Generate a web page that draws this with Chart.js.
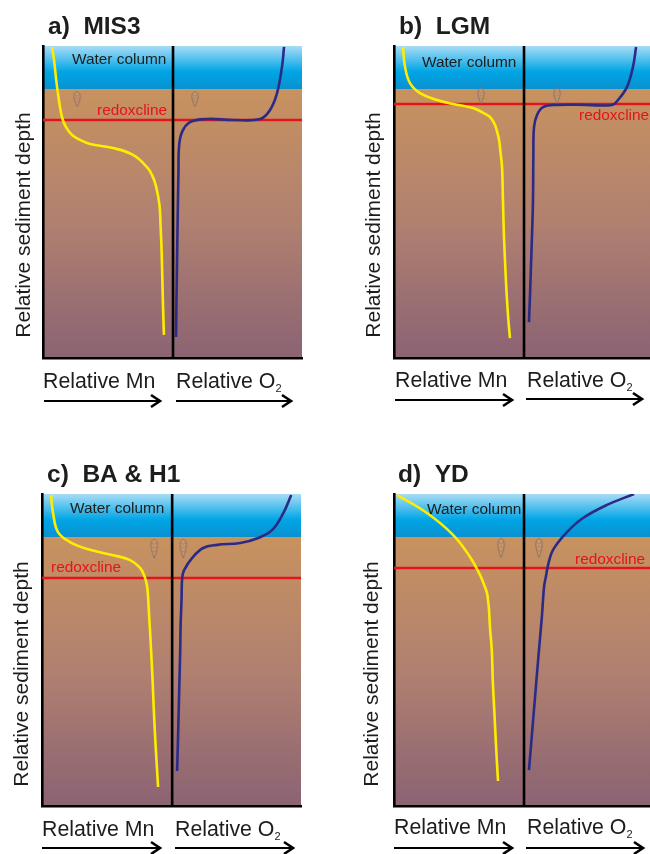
<!DOCTYPE html>
<html>
<head>
<meta charset="utf-8">
<title>Mn and O2 profiles</title>
<script src="https://cdn.jsdelivr.net/npm/chart.js@4"></script>
<style>
    html, body { margin: 0; padding: 0; background: #fff; overflow: hidden; }
    canvas { position: absolute; }
</style>
</head>
<body>
<canvas id="panel-a" width="325" height="427" style="left:0;top:0"></canvas>
<canvas id="panel-b" width="325" height="427" style="left:325px;top:0"></canvas>
<canvas id="panel-c" width="325" height="427" style="left:0;top:427px"></canvas>
<canvas id="panel-d" width="325" height="427" style="left:325px;top:427px"></canvas>
<script>
// Values. x: 0-100 is the Mn half, 100-200 the O2 half. Depth: 0 top, 100 bottom.
const misMnX = [6.9, 8.5, 10.8, 14.6, 17.7, 22.3, 28.5, 36.2, 53.8, 69.2, 80, 83.8, 86.9, 89.6, 90.4, 91.2, 91.8, 92.3, 93];
const misMnDepth = [0.3, 4.5, 13.1, 22.8, 26, 28.5, 30.1, 31.4, 32.7, 34.9, 38.8, 41.3, 44.9, 51, 57.4, 65.4, 75, 83, 92.6];
const misO2X = [185.4, 183.8, 180, 174.6, 166.9, 146.2, 126.2, 113.1, 106.9, 104.6, 104.2, 103.8, 103.4, 103, 102.6, 102.3];
const misO2Depth = [0.3, 6.7, 15.1, 20.5, 23.4, 23.7, 23.4, 24.4, 27.6, 32.4, 40, 49.4, 60, 71.8, 83, 93.3];

const lgmMnX = [6.9, 8.5, 12.3, 20, 33.1, 45.4, 60.8, 71.5, 74.6, 77.7, 79.6, 80.8, 81.9, 83.1, 83.8, 84.5, 85.5, 86.7, 88, 89.2];
const lgmMnDepth = [0.3, 6.7, 11.9, 15.1, 17.3, 18.6, 19.9, 22.1, 23.1, 25.3, 27.9, 30.1, 34, 38.8, 49.4, 60, 70, 80, 88, 93.6];
const lgmO2X = [186.2, 183.8, 179.2, 172.3, 167.7, 148.5, 125.4, 114.6, 110, 107.7, 107.2, 106.9, 106.2, 105.4, 104.6, 103.8];
const lgmO2Depth = [0.3, 6.7, 13.1, 17.3, 18.9, 18.9, 18.9, 19.6, 22.1, 26, 35, 49.4, 60, 70, 80, 88.5];

const baMnX = [6.9, 8.5, 12.3, 21.5, 36.9, 54.6, 67.7, 75.4, 79.2, 80.8, 81.5, 82.3, 83.1, 83.8, 85, 86, 87.2, 88.2, 89.2];
const baMnDepth = [0.3, 6.1, 12.2, 15.4, 17.9, 19.6, 21.2, 23.7, 26.9, 29.8, 33, 39, 44.6, 50, 60, 70, 80, 87, 93.9];
const baO2X = [191.5, 185.4, 176.9, 166.2, 152.3, 134.6, 123.8, 115.4, 109.2, 107.7, 107.2, 106.5, 106.2, 105.6, 105, 104.4, 103.8];
const baO2Depth = [0.3, 6.1, 11.5, 14.1, 15.7, 16.3, 17.3, 20.5, 24.4, 26.9, 34, 42, 50, 60, 70, 80, 88.8];

const ydMnX = [2.3, 25.4, 45.4, 58.5, 66.2, 69.2, 71.5, 72.3, 73.1, 73.8, 75.2, 76, 77.2, 78.4, 79.3, 80];
const ydMnDepth = [0.3, 6.1, 13.1, 20.2, 26, 29, 31.7, 34, 37.2, 42.6, 50, 60, 70, 80, 87, 92];
const ydO2X = [184.6, 163.8, 145.4, 133.1, 122.3, 118.5, 116.9, 115.4, 113.8, 111.5, 109.5, 107.5, 105.5, 103.8];
const ydO2Depth = [0, 3.5, 7.7, 12.2, 17.9, 22.8, 26.3, 29.8, 39, 50, 60, 70, 80, 88.5];

const redoxDepths = [23.7, 18.6, 26.9, 23.7];
const waterDepths = [13.8, 13.8, 13.8, 13.8];
const foramX = [[26.2, 116.9], [66.9, 125.4], [86.2, 108.5], [82.3, 111.5]];
const foramDepth = [[17, 17], [16, 16], [17.5, 17.5], [17.3, 17.3]];
const panelTitles = ['a)  MIS3', 'b)  LGM', 'c)  BA & H1', 'd)  YD'];

const zip = (xs, ys) => xs.map((x, i) => ({ x: x, y: ys[i] }));

// small foram shell used as a point image
function makeForam(w, h) {
    const c = document.createElement('canvas');
    c.width = w + 2;
    c.height = h + 2;
    const g = c.getContext('2d');
    g.translate(1, 1);
    g.beginPath();
    g.moveTo(w / 2, 0);
    g.bezierCurveTo(w + 0.5, 1, w, h * 0.5, w / 2, h);
    g.bezierCurveTo(0, h * 0.5, -0.5, 1, w / 2, 0);
    g.fillStyle = 'rgba(205,150,105,0.9)';
    g.fill();
    g.strokeStyle = '#7d6f66';
    g.lineWidth = 0.8;
    g.stroke();
    g.lineWidth = 0.5;
    for (let i = 1; i < 4; i++) {
        g.beginPath();
        g.moveTo(w * 0.2, h * i / 5);
        g.quadraticCurveTo(w / 2, h * i / 5 + 3, w * 0.8, h * i / 5);
        g.stroke();
    }
    return c;
}

// Function 1: draw background, texts and arrows of one panel
const panelPlugin = {
    id: 'panelPlugin',
    beforeDraw(chart, args, opts) {
        const { ctx, chartArea: a, scales } = chart;
        const waterY = scales.y.getPixelForValue(opts.water);

        const water = ctx.createLinearGradient(0, a.top, 0, waterY);
        water.addColorStop(0, '#a8dcf6');
        water.addColorStop(0.6, '#00a5e5');
        water.addColorStop(1, '#0a90cf');
        ctx.fillStyle = water;
        ctx.fillRect(a.left, a.top, a.width, waterY - a.top);

        const sediment = ctx.createLinearGradient(0, waterY, 0, a.bottom);
        sediment.addColorStop(0, '#c8925f');
        sediment.addColorStop(0.5, '#b08070');
        sediment.addColorStop(1, '#8b6373');
        ctx.fillStyle = sediment;
        ctx.fillRect(a.left, waterY, a.width, a.bottom - waterY);
    },
    afterDraw(chart, args, opts) {
        const ctx = chart.ctx;
        const dx = opts.offsetX, dy = opts.offsetY;
        ctx.save();
        ctx.textBaseline = 'alphabetic';
        ctx.textAlign = 'left';

        ctx.font = 'bold 24.5px "Liberation Sans"';
        ctx.fillStyle = '#1d1d1b';
        ctx.fillText(opts.title, opts.titleX - dx, opts.titleY - dy);

        ctx.font = '15.4px "Liberation Sans"';
        ctx.fillText('Water column', opts.waterX - dx, opts.waterY - dy);

        ctx.fillStyle = '#e3141c';
        ctx.fillText('redoxcline', opts.redoxX - dx, opts.redoxY - dy);

        ctx.fillStyle = '#1d1d1b';
        ctx.font = '21.3px "Liberation Sans"';
        ctx.fillText('Relative Mn', opts.mnX - dx, opts.labelY - dy);
        ctx.fillText('Relative O', opts.o2X - dx, opts.labelY - dy);
        const subX = opts.o2X + ctx.measureText('Relative O').width;
        ctx.font = '11px "Liberation Sans"';
        ctx.fillText('2', subX - dx, opts.labelY + 4 - dy);

        // rotated y label
        ctx.save();
        ctx.translate(opts.yLabelX - dx, opts.yLabelY - dy);
        ctx.rotate(-Math.PI / 2);
        ctx.textAlign = 'center';
        ctx.font = '21px "Liberation Sans"';
        ctx.fillText('Relative sediment depth', 0, 0);
        ctx.restore();

        opts.arrows.forEach(ar => {
            const y = ar[2] - dy, x0 = ar[0] - dx, x1 = ar[1] - dx;
            ctx.strokeStyle = '#000';
            ctx.lineWidth = 2;
            ctx.beginPath();
            ctx.moveTo(x0, y);
            ctx.lineTo(x1, y);
            ctx.stroke();
            ctx.lineWidth = 2.6;
            ctx.beginPath();
            ctx.moveTo(x1 - 9, y - 6);
            ctx.lineTo(x1, y);
            ctx.lineTo(x1 - 9, y + 6);
            ctx.stroke();
        });
        ctx.restore();
    }
};

// Function 2: build one panel
function drawPanel(id, idx, mn, o2, box, text, foramSize) {
    const divider = [{ x: 100, y: 0 }, { x: 100, y: 100 }];
    const redox = [{ x: 0, y: redoxDepths[idx] }, { x: box.xMax, y: redoxDepths[idx] }];

    new Chart(document.getElementById(id), {
        type: 'line',
        data: {
            datasets: [
                { data: zip(foramX[idx], foramDepth[idx]), showLine: false, pointStyle: makeForam(foramSize[0], foramSize[1]) },
                { data: mn, borderColor: '#ffed00', borderWidth: 2.6, tension: 0.4, pointRadius: 0 },
                { data: o2, borderColor: '#2b2a86', borderWidth: 2.6, tension: 0.4, pointRadius: 0 },
                { data: divider, borderColor: '#000', borderWidth: 2.6, pointRadius: 0 },
                { data: redox, borderColor: '#e3141c', borderWidth: 2.4, pointRadius: 0 }
            ]
        },
        options: {
            responsive: false,
            animation: false,
            devicePixelRatio: 1,
            layout: { autoPadding: false, padding: box.padding },
            scales: {
                x: {
                    type: 'linear', min: 0, max: box.xMax,
                    afterFit: s => { s.height = 0; },
                    ticks: { display: false },
                    grid: { display: false, drawTicks: false },
                    border: { display: true, color: '#000', width: 2.6 }
                },
                y: {
                    type: 'linear', min: 0, max: 100, reverse: true,
                    afterFit: s => { s.width = 0; },
                    ticks: { display: false },
                    grid: { display: false, drawTicks: false },
                    border: { display: true, color: '#000', width: 2.6 }
                }
            },
            plugins: {
                legend: { display: false },
                tooltip: { enabled: false },
                panelPlugin: Object.assign({ title: panelTitles[idx], water: waterDepths[idx] }, text)
            }
        },
        plugins: [panelPlugin]
    });
}

drawPanel('panel-a', 0, zip(misMnX, misMnDepth), zip(misO2X, misO2Depth),
    { xMax: 199.2, padding: { left: 43, top: 46, right: 23, bottom: 69 } },
    { offsetX: 0, offsetY: 0, titleX: 48, titleY: 34, waterX: 72, waterY: 64, redoxX: 97, redoxY: 115,
      mnX: 43, o2X: 176, labelY: 388, yLabelX: 30, yLabelY: 225, arrows: [[44, 160, 401], [176, 291, 401]] },
    [8, 15]);

drawPanel('panel-b', 1, zip(lgmMnX, lgmMnDepth), zip(lgmO2X, lgmO2Depth),
    { xMax: 196.9, padding: { left: 69, top: 46, right: 0, bottom: 69 } },
    { offsetX: 325, offsetY: 0, titleX: 399, titleY: 34, waterX: 422, waterY: 67, redoxX: 579, redoxY: 120,
      mnX: 395, o2X: 527, labelY: 387, yLabelX: 380, yLabelY: 225, arrows: [[395, 512, 400], [526, 642, 399]] },
    [8, 15]);

drawPanel('panel-c', 2, zip(baMnX, baMnDepth), zip(baO2X, baO2Depth),
    { xMax: 199, padding: { left: 42, top: 67, right: 24, bottom: 48 } },
    { offsetX: 0, offsetY: 427, titleX: 47, titleY: 482, waterX: 70, waterY: 513, redoxX: 51, redoxY: 572,
      mnX: 42, o2X: 175, labelY: 836, yLabelX: 28, yLabelY: 674, arrows: [[42, 160, 848], [175, 293, 848]] },
    [8, 19]);

drawPanel('panel-d', 3, zip(ydMnX, ydMnDepth), zip(ydO2X, ydO2Depth),
    { xMax: 196.9, padding: { left: 69, top: 67, right: 0, bottom: 48 } },
    { offsetX: 325, offsetY: 427, titleX: 398, titleY: 482, waterX: 427, waterY: 514, redoxX: 575, redoxY: 564,
      mnX: 394, o2X: 527, labelY: 834, yLabelX: 378, yLabelY: 674, arrows: [[394, 512, 848], [526, 643, 848]] },
    [8, 19]);
</script>
</body>
</html>
